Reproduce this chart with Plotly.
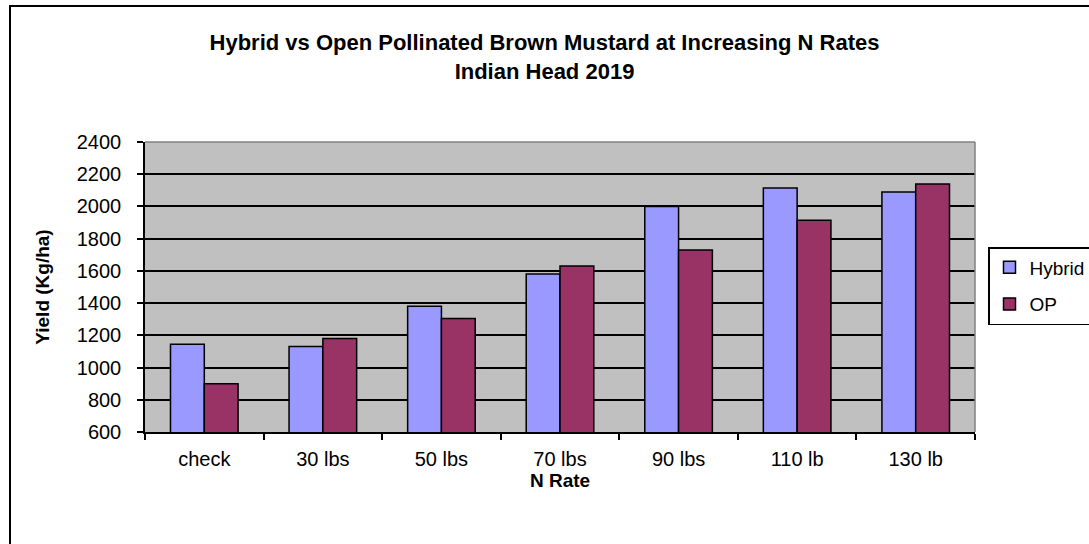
import plotly.graph_objects as go

# Yield by nitrogen rate, Indian Head 2019
categories = ["check", "30 lbs", "50 lbs", "70 lbs", "90 lbs", "110 lb", "130 lb"]
hybrid = [1145, 1130, 1380, 1580, 2000, 2115, 2090]
op = [900, 1180, 1305, 1630, 1730, 1915, 2140]

FONT = "Liberation Sans, Arial, sans-serif"
W, H = 1089, 544
L, R, T, B = 145, 114, 142, 112
PW, PH = W - L - R, H - T - B

fig = go.Figure()
fig.add_trace(go.Bar(
    name="Hybrid", x=categories, y=hybrid, legendgroup="a",
    marker=dict(color="#9999FF", line=dict(color="#000000", width=1.5)),
))
fig.add_trace(go.Bar(
    name="OP", x=categories, y=op, legendgroup="b",
    marker=dict(color="#993366", line=dict(color="#000000", width=1.5)),
))

fig.update_layout(
    width=W, height=H,
    margin=dict(l=L, r=R, t=T, b=B, autoexpand=False),
    paper_bgcolor="#FFFFFF",
    plot_bgcolor="#C0C0C0",
    barmode="group",
    bargap=0.43,
    bargroupgap=0,
    font=dict(family=FONT, size=20, color="#000000"),
    title=dict(
        text="<b>Hybrid vs Open Pollinated Brown Mustard at Increasing N Rates<br>Indian Head 2019</b>",
        x=0.5, xanchor="center", y=1 - 50 / H, yanchor="middle",
        font=dict(family=FONT, size=22, color="#000000"),
    ),
    legend=dict(
        x=(988 - L) / PW, xanchor="left", y=1 - (247 - T) / PH, yanchor="top",
        bordercolor="#000000", borderwidth=1.5, bgcolor="#FFFFFF",
        font=dict(family=FONT, size=19),
        itemwidth=30, tracegroupgap=9,
    ),
    showlegend=True,
    xaxis=dict(
        title=dict(text="<b>N Rate</b>", font=dict(family=FONT, size=19), standoff=5),
        showline=True, linecolor="#000000", linewidth=1.5,
        ticks="outside", tickson="boundaries", ticklen=6, tickcolor="#000000",
        tickwidth=1.5, showgrid=False, ticklabelstandoff=8,
    ),
    yaxis=dict(
        title=dict(text="<b>Yield (Kg/ha)</b>", font=dict(family=FONT, size=19), standoff=22),
        range=[600, 2400], dtick=200, tick0=600,
        showline=True, linecolor="#000000", linewidth=1.5,
        ticks="outside", ticklen=6, tickcolor="#000000", tickwidth=1.5,
        ticklabelstandoff=12,
        showgrid=True, gridcolor="#000000", gridwidth=1.5,
        zeroline=False,
    ),
    shapes=[
        # gray frame on the top and right edges of the plot area
        dict(type="line", xref="paper", yref="paper", x0=0, x1=1, y0=1, y1=1,
             line=dict(color="#808080", width=1.5)),
        dict(type="line", xref="paper", yref="paper", x0=1, x1=1, y0=0, y1=1,
             line=dict(color="#808080", width=1.5)),
        # chart border (runs off the right and bottom edges)
        dict(type="rect", xref="paper", yref="paper",
             x0=(10 - L) / PW, x1=(W + 20 - L) / PW,
             y0=-(B + 20) / PH, y1=1 + (T - 6) / PH,
             line=dict(color="#000000", width=2), layer="below"),
    ],
)

fig.write_html("out.html")
